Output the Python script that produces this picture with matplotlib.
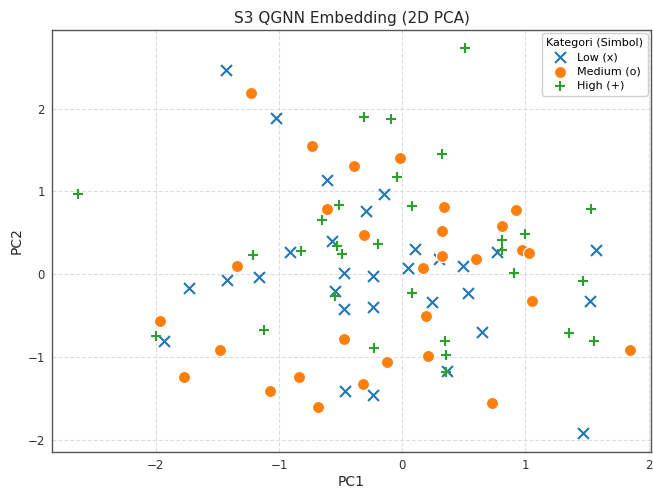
import numpy as np
import matplotlib
matplotlib.use("Agg")
from matplotlib import pyplot as plt

# PCA coordinates, one pair of lists per category
low_x = [-1.43, -1.025, -0.61, -0.15, -0.295, -0.57, -0.91, -1.73, -1.42, -1.16,
         -1.93, -0.47, -0.55, -0.47, -0.24, -0.24, -0.465, -0.24, 0.05, 0.10,
         0.24, 0.30, 0.49, 0.53, 0.65, 0.77, 1.57, 1.52, 1.47, 0.36]
low_y = [2.47, 1.89, 1.14, 0.97, 0.76, 0.40, 0.27, -0.17, -0.07, -0.03,
         -0.80, 0.02, -0.20, -0.42, -0.02, -0.40, -1.41, -1.46, 0.07, 0.31,
         -0.34, 0.18, 0.10, -0.23, -0.70, 0.27, 0.29, -0.32, -1.92, -1.17]

med_x = [-1.23, -0.73, -0.39, -0.02, -0.61, -0.31, 0.34, 0.325, 0.92, 0.81,
         0.32, 0.165, 0.60, 0.97, 1.03, 1.05, 0.19, -0.47, 0.21, -0.12,
         -0.32, 0.73, 1.85, -1.34, -1.97, -1.48, -1.77, -0.84, -1.07, -0.68]
med_y = [2.19, 1.55, 1.31, 1.41, 0.79, 0.47, 0.81, 0.52, 0.78, 0.58,
         0.22, 0.07, 0.185, 0.29, 0.26, -0.32, -0.50, -0.78, -0.99, -1.06,
         -1.32, -1.55, -0.91, 0.10, -0.56, -0.92, -1.24, -1.24, -1.41, -1.60]

high_x = [0.51, -0.31, -0.09, 0.325, -0.045, -0.51, 0.076, 1.53, 1.00, 0.81,
          0.81, -0.195, -2.63, -0.65, -0.53, -1.21, -0.82, -0.49, -0.55, -1.12,
          -2.00, 0.91, 0.08, 1.47, 1.35, 1.56, -0.23, 0.35, 0.355, 0.355]
high_y = [2.73, 1.90, 1.88, 1.45, 1.17, 0.84, 0.83, 0.79, 0.49, 0.42,
          0.29, 0.36, 0.97, 0.66, 0.34, 0.23, 0.28, 0.25, -0.26, -0.67,
          -0.75, 0.02, -0.23, -0.08, -0.71, -0.81, -0.89, -0.81, -0.97, -1.18]

labels = ["Low (x)", "Medium (o)", "High (+)"]

fig = plt.figure(figsize=(6.53, 4.88), dpi=100)
ax = fig.add_axes([0.0796, 0.0738, 0.9174, 0.8647])

ax.scatter(low_x, low_y, marker="x", s=62, color="#1f77b4", linewidths=1.5,
           label=labels[0], zorder=3)
ax.scatter(med_x, med_y, marker="o", s=75, color="#ff7f0e", edgecolors="white",
           linewidths=0.8, label=labels[1], zorder=3)
ax.scatter(high_x, high_y, marker="+", s=62, color="#2ca02c", linewidths=1.5,
           label=labels[2], zorder=3)

ax.set_xlim(-2.843, 2.019)
ax.set_ylim(-2.146, 2.95)
ax.set_xticks([-2, -1, 0, 1, 2])
ax.set_yticks([-2, -1, 0, 1, 2])
ax.grid(True, linestyle="--", color="#dddddd", linewidth=0.8)
ax.tick_params(length=0, labelsize=8.5, colors="#333333", pad=5)
for sp in ax.spines.values():
    sp.set_color("#555555")
    sp.set_linewidth(1.0)

ax.set_title("S3 QGNN Embedding (2D PCA)", fontsize=11, color="#262626", pad=5)
ax.set_xlabel("PC1", fontsize=10, color="#262626", labelpad=2)
ax.set_ylabel("PC2", fontsize=10, color="#262626", labelpad=3)
ax.legend(title="Kategori (Simbol)", loc="upper right", fontsize=8,
          title_fontsize=8, frameon=True, framealpha=0.9,
          borderaxespad=0.3, handletextpad=0.6, labelspacing=0.4)

fig.savefig("out.png", dpi=100)
